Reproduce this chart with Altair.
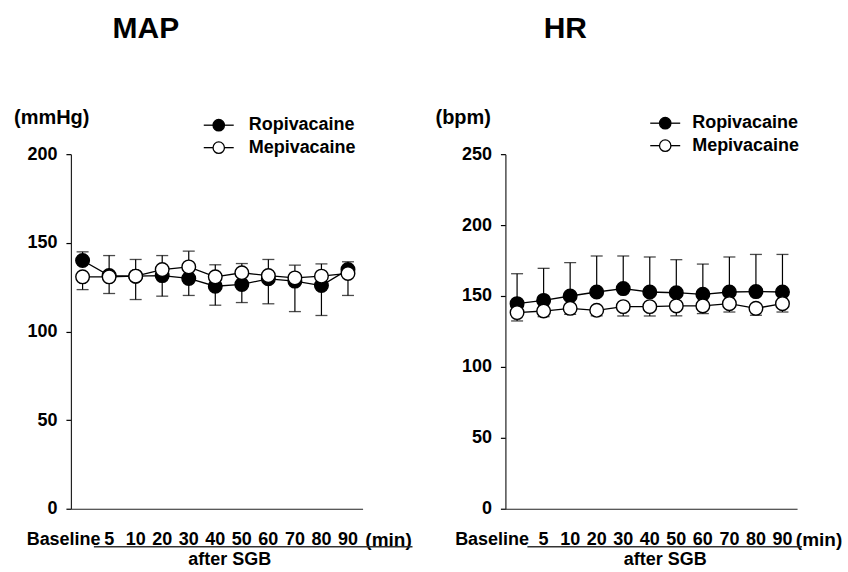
import altair as alt
import pandas as pd

FONT = "Liberation Sans"

# ---- data ----
time_labels = ["Baseline", "5", "10", "20", "30", "40", "50", "60", "70", "80", "90"]
time_index = list(range(11))

map_ropi = [140.0, 131.5, 131.2, 131.5, 129.9, 125.5, 126.5, 129.7, 128.4, 125.9, 134.9]
map_ropi_sd = [4.9, 11.3, 9.4, 11.3, 15.4, 12.1, 11.8, 10.9, 9.0, 12.2, 4.4]
map_mepi = [130.8, 130.8, 131.2, 134.9, 136.4, 130.8, 133.1, 131.5, 130.2, 131.2, 132.7]
map_mepi_sd = [7.2, 9.4, 13.2, 15.0, 16.1, 16.0, 16.8, 15.9, 19.0, 22.2, 12.4]

hr_ropi = [144.6, 146.9, 150.0, 152.8, 155.2, 152.8, 152.3, 151.2, 152.8, 153.1, 152.8]
hr_ropi_sd = [21.1, 22.6, 23.5, 25.4, 23.0, 24.7, 23.3, 21.3, 24.7, 26.2, 26.5]
hr_mepi = [138.3, 139.4, 141.3, 139.9, 142.5, 142.5, 143.0, 143.0, 144.6, 141.3, 144.6]
hr_mepi_sd = [5.9, 4.0, 4.2, 3.9, 6.6, 6.6, 7.0, 5.4, 5.9, 4.9, 5.9]

series_names = ["Ropivacaine", "Mepivacaine"]
series_fill = ["black", "white"]

map_ticks = [0, 50, 100, 150, 200]
hr_ticks = [0, 50, 100, 150, 200, 250]

W = 292
H = 355

one = pd.DataFrame({"k": [0]})


def txt(x, y, s, size=18, align="left", baseline="middle"):
    return alt.Chart(one).mark_text(
        font=FONT, fontSize=size, fontWeight="bold", color="black",
        align=align, baseline=baseline
    ).encode(x=alt.value(x), y=alt.value(y), text=alt.value(s))


def panel(title, title_x, unit, unit_x, ropi, ropi_sd, mepi, mepi_sd, ymax, yticks,
          leg_x, leg_y, leg_tx, base_dx, min_x, ul_x1, ul_x2, sgb_x):
    rows = []
    for i in time_index:
        rows.append(dict(i=i, series="Ropivacaine", mean=ropi[i], end=ropi[i] + ropi_sd[i]))
        rows.append(dict(i=i, series="Mepivacaine", mean=mepi[i], end=mepi[i] - mepi_sd[i]))
    df = pd.DataFrame(rows)

    x = alt.X("i:Q", scale=alt.Scale(domain=[-0.44, 10.55], nice=False, zero=False),
              axis=alt.Axis(labels=False, ticks=False, grid=False, title=None,
                            domainColor="#222222", domainWidth=1.2))
    y = alt.Y("mean:Q", scale=alt.Scale(domain=[0, ymax], nice=False),
              axis=alt.Axis(values=yticks, grid=False, title=None, labelFont=FONT,
                            labelFontSize=18, labelFontWeight="bold", labelColor="black",
                            tickColor="black", tickSize=5, tickWidth=1.2, labelPadding=9,
                            domainColor="#222222", domainWidth=1.2))

    base = alt.Chart(df)
    lines = base.mark_line(color="black", strokeWidth=1.3).encode(x=x, y=y, detail="series:N")
    rules = base.mark_rule(color="black", strokeWidth=1.2).encode(x="i:Q", y="mean:Q", y2="end:Q")
    caps = base.mark_tick(color="black", orient="horizontal", size=12, thickness=1.3).encode(
        x="i:Q", y="end:Q")
    pts = base.mark_circle(size=185, stroke="black", strokeWidth=1.4, opacity=1).encode(
        x="i:Q", y="mean:Q",
        fill=alt.Fill("series:N", scale=alt.Scale(domain=series_names, range=series_fill),
                      legend=None))

    lab_df = pd.DataFrame({"i": time_index[1:], "lab": time_labels[1:]})
    xl = alt.Chart(lab_df).mark_text(font=FONT, fontSize=18, fontWeight="bold", color="black",
                                     align="center", baseline="middle").encode(
        x="i:Q", y=alt.value(386), text="lab:N")
    b_df = pd.DataFrame({"i": [time_index[0]], "lab": [time_labels[0]]})
    bl = alt.Chart(b_df).mark_text(font=FONT, fontSize=18, fontWeight="bold", color="black",
                                   align="right", baseline="middle", dx=base_dx).encode(
        x="i:Q", y=alt.value(386), text="lab:N")

    layers = [lines, rules, caps, pts, xl, bl]

    # legend
    for k, (nm, fl) in enumerate(zip(series_names, series_fill)):
        yy = leg_y + k * 22.5
        layers.append(alt.Chart(one).mark_rule(color="black", strokeWidth=1.3).encode(
            x=alt.value(leg_x - 15), x2=alt.value(leg_x + 15), y=alt.value(yy)))
        layers.append(alt.Chart(one).mark_circle(size=130, stroke="black", strokeWidth=1.3,
                                                  opacity=1, fill=fl).encode(
            x=alt.value(leg_x), y=alt.value(yy)))
        layers.append(txt(leg_x + leg_tx, yy, nm, 18))

    layers.append(txt(title_x, -125, title, 30, align="center"))
    layers.append(txt(unit_x, -36, unit, 20))
    layers.append(txt(min_x, 386, "(min)", 19, align="center"))
    layers.append(alt.Chart(one).mark_rule(color="#333333", strokeWidth=1.5).encode(
        x=alt.value(ul_x1), x2=alt.value(ul_x2), y=alt.value(393)))
    layers.append(txt(sgb_x, 406, "after SGB", 18, align="center"))

    return alt.layer(*layers).properties(width=W, height=H)


left = panel("MAP", 75, "(mmHg)", -57, map_ropi, map_ropi_sd, map_mepi, map_mepi_sd,
             200, map_ticks, 148, -29, 30, 18, 318, 23, 342, 159)
right = panel("HR", 60, "(bpm)", -70, hr_ropi, hr_ropi_sd, hr_mepi, hr_mepi_sd,
              250, hr_ticks, 160, -31, 27, 12, 314, 22, 297, 160)

chart = alt.hconcat(left, right, spacing=20).properties(
    padding={"left": 13, "top": 13, "right": 5, "bottom": 2}
).configure_view(stroke="transparent").configure_concat(spacing=20)

chart.save("out.html", embed_options={"renderer": "svg", "actions": False})
